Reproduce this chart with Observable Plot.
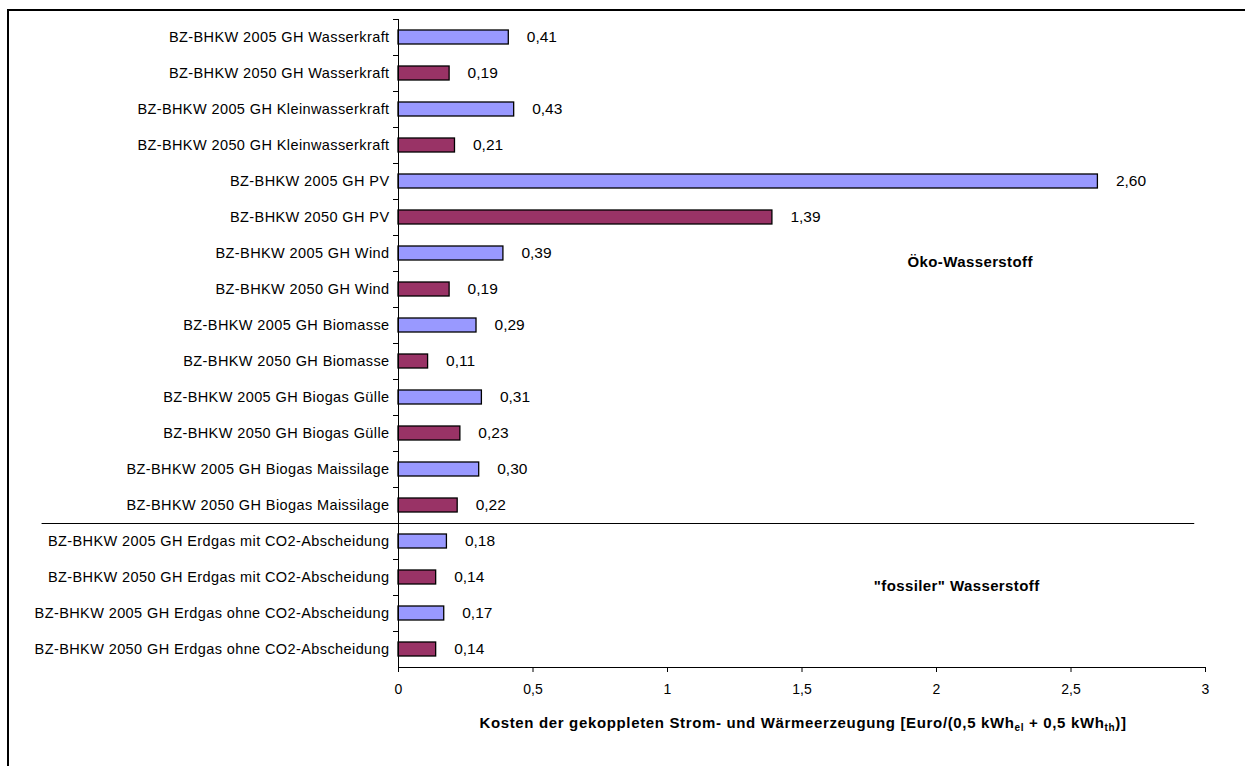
<!DOCTYPE html>
<html>
<head>
<meta charset="utf-8">
<script src="https://cdn.jsdelivr.net/npm/d3@7"></script>
<script src="https://cdn.jsdelivr.net/npm/@observablehq/plot@0.6"></script>
<style>
  html, body { margin: 0; padding: 0; background: #fff; overflow: hidden; }
  #wrap { position: relative; width: 1245px; height: 766px; }
  #border { position: absolute; left: 7px; top: 9px; width: 1400px; height: 900px;
            border-left: 2px solid #000; border-top: 2px solid #000; }
  #chart { position: absolute; left: 0; top: 0; }
  svg text { font-family: Arial, "Liberation Sans", sans-serif; }
</style>
</head>
<body>
<div id="wrap"><div id="border"></div><div id="chart"></div></div>
<script>
const categories = [
  "BZ-BHKW 2005 GH Wasserkraft",
  "BZ-BHKW 2050 GH Wasserkraft",
  "BZ-BHKW 2005 GH Kleinwasserkraft",
  "BZ-BHKW 2050 GH Kleinwasserkraft",
  "BZ-BHKW 2005 GH PV",
  "BZ-BHKW 2050 GH PV",
  "BZ-BHKW 2005 GH Wind",
  "BZ-BHKW 2050 GH Wind",
  "BZ-BHKW 2005 GH Biomasse",
  "BZ-BHKW 2050 GH Biomasse",
  "BZ-BHKW 2005 GH Biogas Gülle",
  "BZ-BHKW 2050 GH Biogas Gülle",
  "BZ-BHKW 2005 GH Biogas Maissilage",
  "BZ-BHKW 2050 GH Biogas Maissilage",
  "BZ-BHKW 2005 GH Erdgas mit CO2-Abscheidung",
  "BZ-BHKW 2050 GH Erdgas mit CO2-Abscheidung",
  "BZ-BHKW 2005 GH Erdgas ohne CO2-Abscheidung",
  "BZ-BHKW 2050 GH Erdgas ohne CO2-Abscheidung"
];
const values = [0.41, 0.19, 0.43, 0.21, 2.60, 1.39, 0.39, 0.19, 0.29, 0.11, 0.31, 0.23, 0.30, 0.22, 0.18, 0.14, 0.17, 0.14];
const years = ["2005","2050","2005","2050","2005","2050","2005","2050","2005","2050","2005","2050","2005","2050","2005","2050","2005","2050"];
const xTicks = [0, 0.5, 1, 1.5, 2, 2.5, 3];
const groupLabels = ["Öko-Wasserstoff", "\"fossiler\" Wasserstoff"];
const groupX = [2.125, 2.075];
const groupY = ["BZ-BHKW 2005 GH Wind", "BZ-BHKW 2050 GH Erdgas mit CO2-Abscheidung"];
const separatorBefore = "BZ-BHKW 2005 GH Erdgas mit CO2-Abscheidung";

const data = categories.map((c, i) => ({category: c, value: values[i], year: years[i]}));
const groups = groupLabels.map((t, i) => ({text: t, x: groupX[i], y: groupY[i]}));
const fmt = v => v.toFixed(2).replace(".", ",");

const plot = Plot.plot({
  width: 1245,
  height: 766,
  marginLeft: 398,
  marginRight: 40,
  marginTop: 19,
  marginBottom: 99,
  style: {fontFamily: "Arial, 'Liberation Sans', sans-serif", fontSize: "14px", color: "#000", background: "transparent"},
  x: {domain: [0, 3], ticks: xTicks},
  y: {domain: categories, padding: 0},
  color: {domain: ["2005", "2050"], range: ["#9999FF", "#993366"]},
  marks: [
    Plot.barX(data, {x: "value", y: "category", fill: "year", stroke: "#000", strokeWidth: 1.3, insetTop: 11, insetBottom: 11}),
    Plot.text(data, {x: "value", y: "category", text: d => fmt(d.value), textAnchor: "start", dx: 18, fontSize: 15.5, fill: "#000"}),
    Plot.text(data, {x: 0, y: "category", text: "category", textAnchor: "end", dx: -9, fontSize: 14.5, fill: "#000", className: "catlab"}),
    Plot.axisY({tickSize: 5, dy: -18, tickFormat: () => "", label: null}),
    Plot.ruleY([separatorBefore], {y: d => d, dy: -18, x1: -1.325, x2: 2.96, stroke: "#000", strokeWidth: 1}),
    Plot.frame({anchor: "left", stroke: "#000"}),
    Plot.frame({anchor: "bottom", stroke: "#000"}),
    Plot.axisX({ticks: xTicks, tickSize: 5, tickPadding: 12, tickFormat: d => String(d).replace(".", ","), label: null, fontSize: 14}),
    Plot.text(groups, {x: "x", y: "y", text: "text", dy: 9, fontWeight: "bold", fontSize: 15, fill: "#000", className: "grplab"})
  ]
});

document.getElementById("chart").appendChild(plot);
d3.select(plot).selectAll(".catlab text").style("letter-spacing", "0.4px");
d3.select(plot).selectAll(".grplab text").style("letter-spacing", "0.4px");

// axis title with subscripts
const svg = d3.select(plot);
const title = svg.append("text")
  .attr("x", 803).attr("y", 728)
  .attr("text-anchor", "middle")
  .attr("font-weight", "bold")
  .attr("font-size", 15)
  .style("letter-spacing", "0.65px")
  .attr("fill", "#000");
title.append("tspan").text("Kosten der gekoppleten Strom- und Wärmeerzeugung [Euro/(0,5 kWh");
title.append("tspan").attr("font-size", 10).attr("dy", 3).text("el");
title.append("tspan").attr("dy", -3).text(" + 0,5 kWh");
title.append("tspan").attr("font-size", 10).attr("dy", 3).text("th");
title.append("tspan").attr("dy", -3).text(")]");
</script>
</body>
</html>
